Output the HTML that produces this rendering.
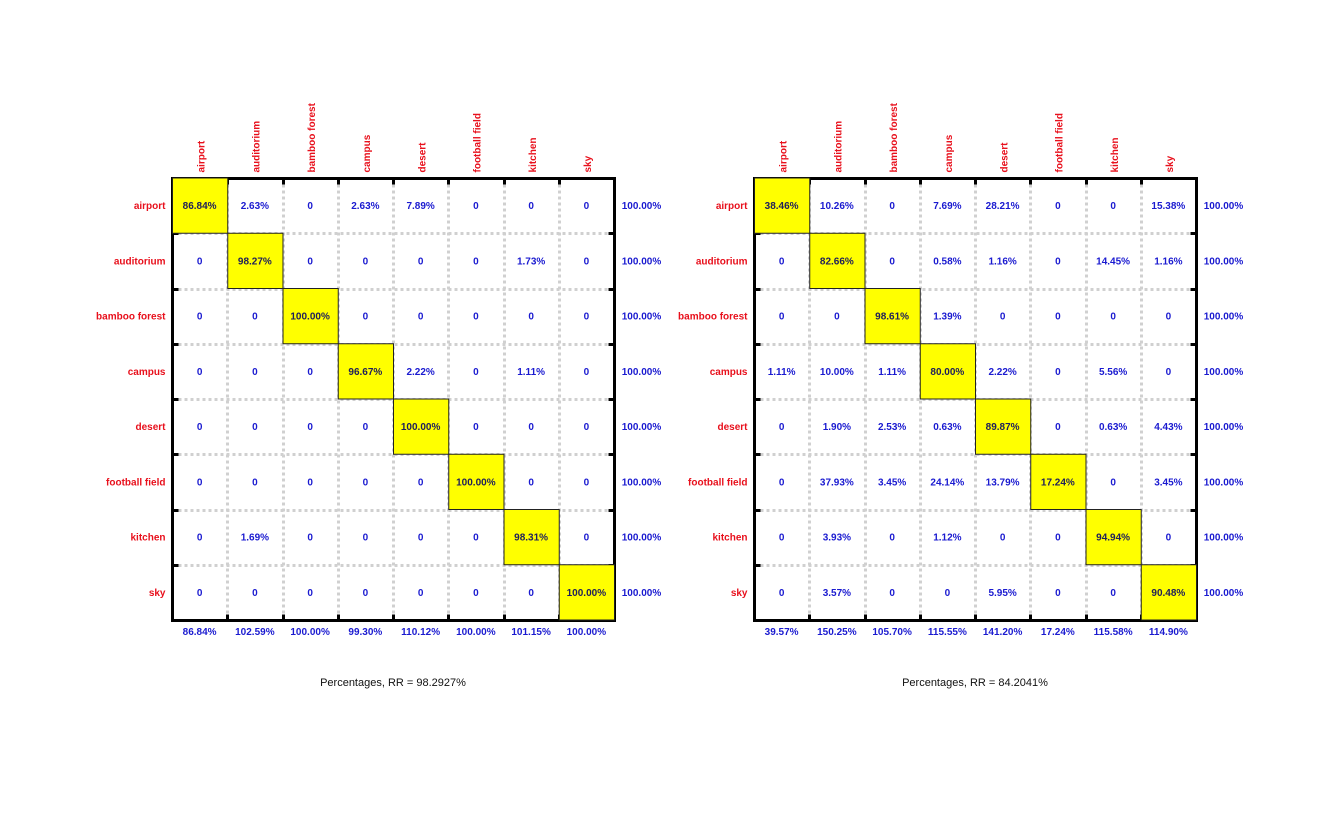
<!DOCTYPE html>
<html>
<head>
<meta charset="utf-8">
<title>Confusion matrices</title>
<style>
html,body{margin:0;padding:0;background:#fff;}
svg{display:block;}
text{font-family:"Liberation Sans",Arial,sans-serif;}
</style>
</head>
<body>
<svg id="chart" xmlns="http://www.w3.org/2000/svg" width="1322" height="826" viewBox="0 0 1322 826"></svg>
<script>
const categories = ["airport","auditorium","bamboo forest","campus","desert","football field","kitchen","sky"];

const leftMatrix = [
  [86.84,2.63,0,2.63,7.89,0,0,0],
  [0,98.27,0,0,0,0,1.73,0],
  [0,0,100,0,0,0,0,0],
  [0,0,0,96.67,2.22,0,1.11,0],
  [0,0,0,0,100,0,0,0],
  [0,0,0,0,0,100,0,0],
  [0,1.69,0,0,0,0,98.31,0],
  [0,0,0,0,0,0,0,100]
];
const leftRowTotals = [100,100,100,100,100,100,100,100];
const leftColumnTotals = [86.84,102.59,100,99.30,110.12,100,101.15,100];
const leftRate = "98.2927";

const rightMatrix = [
  [38.46,10.26,0,7.69,28.21,0,0,15.38],
  [0,82.66,0,0.58,1.16,0,14.45,1.16],
  [0,0,98.61,1.39,0,0,0,0],
  [1.11,10.00,1.11,80.00,2.22,0,5.56,0],
  [0,1.90,2.53,0.63,89.87,0,0.63,4.43],
  [0,37.93,3.45,24.14,13.79,17.24,0,3.45],
  [0,3.93,0,1.12,0,0,94.94,0],
  [0,3.57,0,0,5.95,0,0,90.48]
];
const rightRowTotals = [100,100,100,100,100,100,100,100];
const rightColumnTotals = [39.57,150.25,105.70,115.55,141.20,17.24,115.58,114.90];
const rightRate = "84.2041";

const NS = "http://www.w3.org/2000/svg";
const svg = document.getElementById("chart");
const CELL = 55.25;
const TOP = 178.5;

function make(tag, attrs, parent, content) {
  const el = document.createElementNS(NS, tag);
  for (const k in attrs) el.setAttribute(k, attrs[k]);
  if (content !== undefined) el.textContent = content;
  parent.appendChild(el);
  return el;
}
function fmt(v) {
  return v === 0 ? "0" : v.toFixed(2) + "%";
}
function snap(v) {
  return Math.floor(v) + 0.5;
}

function drawPanel(panelName, left, matrix, rowTotals, columnTotals, rate) {
  const n = categories.length;
  const xAt = i => left + i * CELL;
  const yAt = i => TOP + i * CELL;
  const right = xAt(n);
  const bottom = yAt(n);

  const g = make("g", {}, svg);
  
  

  // dotted grid
  for (let i = 1; i < n; i++) {
    const gv = make("line", {x1: snap(xAt(i)), x2: snap(xAt(i)), y1: TOP, y2: bottom, stroke: "#d0d0d0", "stroke-width": 3, "stroke-dasharray": "3 3"}, g);
    
    
    const gh = make("line", {x1: left, x2: right, y1: snap(yAt(i)), y2: snap(yAt(i)), stroke: "#d0d0d0", "stroke-width": 3, "stroke-dasharray": "3 3"}, g);
    
    
  }

  // tick marks
  const TICK = 6;
  for (let i = 1; i < n; i++) {
    [[snap(xAt(i)), TOP, snap(xAt(i)), TOP + TICK], [snap(xAt(i)), bottom, snap(xAt(i)), bottom - TICK],
     [left, snap(yAt(i)), left + TICK, snap(yAt(i))], [right, snap(yAt(i)), right - TICK, snap(yAt(i))]].forEach(p => {
      const t = make("line", {x1: p[0], y1: p[1], x2: p[2], y2: p[3], stroke: "#000", "stroke-width": 3}, g);
      
      
    });
  }

  // frame
  const frame = make("rect", {x: left, y: TOP, width: right - left, height: bottom - TOP, fill: "none", stroke: "#000", "stroke-width": 3}, g);
  
  

  // diagonal highlight cells
  for (let i = 0; i < n; i++) {
    const c = make("rect", {x: xAt(i), y: yAt(i) - 0.5, width: CELL, height: CELL, fill: "#ffff00", stroke: "#222", "stroke-width": 1}, g);
    
    
  }

  // column labels
  categories.forEach((name, i) => {
    const cx = xAt(i) + CELL / 2 + 1.5;
    const t = make("text", {x: cx, y: 172.5, transform: "rotate(-90 " + cx + " 172.5)", "text-anchor": "start", "font-size": 10, "font-weight": "bold", fill: "#e8101c", "dominant-baseline": "middle"}, g, name);
    
    
  });

  // row labels
  categories.forEach((name, i) => {
    const t = make("text", {x: left - 7, y: yAt(i) + CELL / 2 + 3, "text-anchor": "end", "font-size": 10, "font-weight": "bold", fill: "#e8101c"}, g, name);
    
    
  });

  // matrix values
  matrix.forEach((row, r) => {
    row.forEach((v, c) => {
      const t = make("text", {x: xAt(c) + CELL / 2 - 0.5, y: yAt(r) + CELL / 2 + 3, "text-anchor": "middle", "font-size": 10, "font-weight": "bold", fill: r === c ? "#20205a" : "#1a1ad0"}, g, fmt(v));
      
      
    });
  });

  // row totals
  rowTotals.forEach((v, r) => {
    const t = make("text", {x: right + 27, y: yAt(r) + CELL / 2 + 3, "text-anchor": "middle", "font-size": 10, "font-weight": "bold", fill: "#1a1ad0"}, g, fmt(v));
    
    
  });

  // column totals
  columnTotals.forEach((v, c) => {
    const t = make("text", {x: xAt(c) + CELL / 2 - 0.5, y: 635, "text-anchor": "middle", "font-size": 10, "font-weight": "bold", fill: "#1a1ad0"}, g, fmt(v));
    
    
  });

  // caption
  const cap = make("text", {x: (left + right) / 2 - 0.5, y: 686, "text-anchor": "middle", "font-size": 11, fill: "#111"}, g, "Percentages, RR = " + rate + "%");
  
  
}

drawPanel("left-confusion-matrix", 172.5, leftMatrix, leftRowTotals, leftColumnTotals, leftRate);
drawPanel("right-confusion-matrix", 754.5, rightMatrix, rightRowTotals, rightColumnTotals, rightRate);
</script>
</body>
</html>
